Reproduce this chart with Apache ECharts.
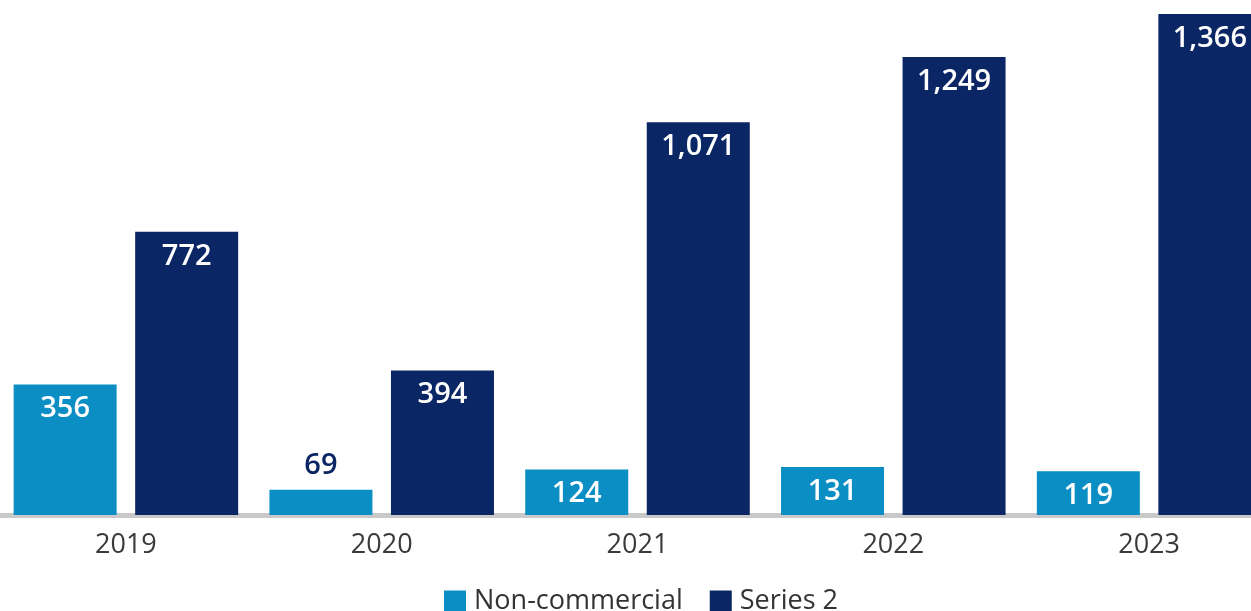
<!DOCTYPE html>
<html>
<head>
<meta charset="utf-8">
<script src="https://cdn.jsdelivr.net/npm/echarts@6/dist/echarts.min.js"></script>
<style>
  html, body { margin: 0; padding: 0; background: #fff; }
  #chart { width: 1251px; height: 611px; }
</style>
</head>
<body>
<div id="chart"></div>
<script>
// Yearly counts, two series
const years = ['2019', '2020', '2021', '2022', '2023'];
const nonCommercial = [356, 69, 124, 131, 119];
const series2 = [772, 394, 1071, 1249, 1366];
const seriesNames = ['Non-commercial', 'Series 2'];

const LIGHT = '#0B8EC3';
const NAVY = '#0B2665';
const FONT = '"Open Sans", "Noto Sans", sans-serif';

const fmt = v => Number(v).toLocaleString('en-US');

// Small bars can't hold their label inside; put it on top in navy
function labelFor(value) {
  if (value < 100) {
    return { position: 'top', distance: 9, color: NAVY };
  }
  return {};
}

function makeData(values) {
  return values.map(v => ({ value: v, label: labelFor(v) }));
}

const chart = echarts.init(document.getElementById('chart'), null, { renderer: 'canvas' });

const valueLabel = {
  show: true,
  position: 'insideTop',
  distance: 10,
  color: '#fff',
  fontSize: 29,
  fontWeight: 600,
  fontFamily: FONT,
  formatter: p => fmt(p.value)
};

chart.setOption({
  animation: false,
  textStyle: { fontFamily: FONT },
  // the last group runs past the right edge of the canvas
  grid: {
    left: -2, width: 1279, top: 1.5, height: 513.5,
    outerBoundsMode: 'none', containLabel: false
  },
  legend: {
    bottom: -4,
    left: 444,
    padding: 0,
    itemWidth: 22,
    itemHeight: 22,
    itemGap: 27,
    icon: 'rect',
    textStyle: { fontSize: 27, color: '#333', fontFamily: FONT, padding: [0, 0, 0, 3] },
    data: seriesNames
  },
  xAxis: {
    type: 'category',
    data: years,
    axisTick: { show: false },
    axisLine: { lineStyle: { color: '#C9C9C9', width: 5 } },
    axisLabel: { fontSize: 27, color: '#3a3a3a', margin: 17, fontFamily: FONT }
  },
  yAxis: {
    type: 'value',
    min: 0,
    max: 1400,
    show: false,
    splitLine: { show: false }
  },
  series: [
    {
      name: seriesNames[0],
      type: 'bar',
      barWidth: 103,
      barGap: '18%',
      itemStyle: { color: LIGHT },
      label: valueLabel,
      data: makeData(nonCommercial)
    },
    {
      name: seriesNames[1],
      type: 'bar',
      barWidth: 103,
      barGap: '18%',
      itemStyle: { color: NAVY },
      label: valueLabel,
      data: makeData(series2)
    }
  ]
});
</script>
</body>
</html>
